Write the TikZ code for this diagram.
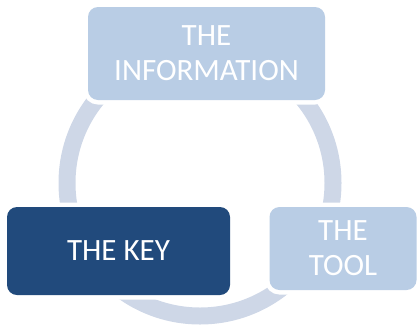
\documentclass[tikz,border=0pt]{standalone}
\usepackage{fontspec}
\setmainfont{Carlito}
\usepackage{tikz}
\definecolor{ring}{HTML}{CED7E7}
\definecolor{pale}{HTML}{B9CDE5}
\definecolor{navy}{HTML}{214A7C}
\tikzset{
  halo/.style={preaction={draw=white, line width=9pt}},
  stage/.style={halo, fill=pale, rounded corners=10pt, inner sep=0pt, align=center,
    text=white, font=\fontsize{31}{35}\selectfont},
  keystage/.style={stage, fill=navy},
  loop/.style={draw=ring, line width=17pt},
}

\begin{document}
\begin{tikzpicture}[x=1pt,y=-1pt]
  \useasboundingbox (0,0) rectangle (417,327);
  \coordinate (C) at (200,183);

  % the cycle behind the boxes
  \draw[loop] (C) circle (133);

  \node[stage, minimum width=237pt, minimum height=93pt] (info) at (206.5,53.5) {THE\\INFORMATION};
  \node[keystage, minimum width=223pt, minimum height=88pt] (key) at (118.5,251) {THE KEY};
  \node[stage, minimum width=147pt, minimum height=83pt] (tool) at (343,248.5) {THE\\TOOL};
\end{tikzpicture}
\end{document}
